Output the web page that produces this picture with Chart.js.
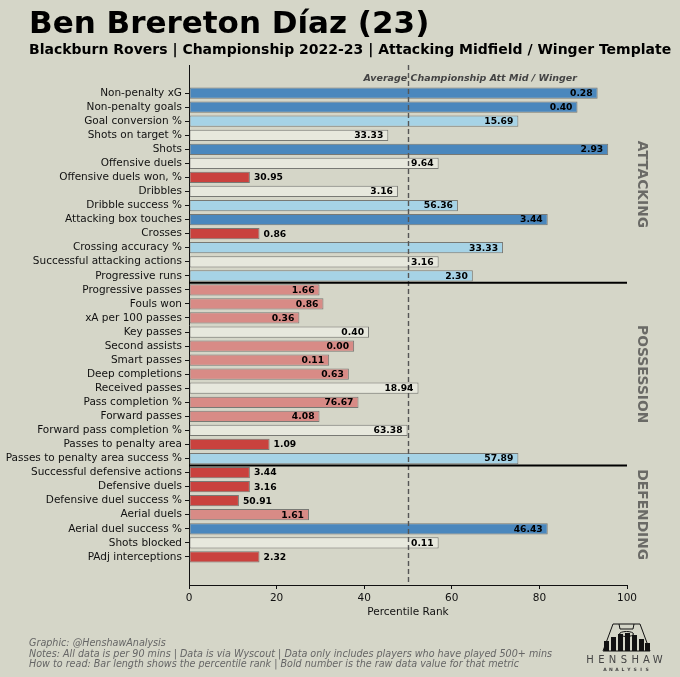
<!DOCTYPE html>
<html>
<head>
<meta charset="utf-8">
<script src="https://cdn.jsdelivr.net/npm/chart.js@4.4.0/dist/chart.umd.min.js"></script>
<style>
  html, body { margin: 0; padding: 0; background: #d5d6c8; }
  canvas { display: block; }
</style>
</head>
<body>
<canvas id="chart" width="680" height="677"></canvas>
<script>
const BG = '#d5d6c8';
const FONT = "'DejaVu Sans', sans-serif";

const metrics = [
  'Non-penalty xG', 'Non-penalty goals', 'Goal conversion %', 'Shots on target %', 'Shots',
  'Offensive duels', 'Offensive duels won, %', 'Dribbles', 'Dribble success %',
  'Attacking box touches', 'Crosses', 'Crossing accuracy %', 'Successful attacking actions',
  'Progressive runs',
  'Progressive passes', 'Fouls won', 'xA per 100 passes', 'Key passes', 'Second assists',
  'Smart passes', 'Deep completions', 'Received passes', 'Pass completion %', 'Forward passes',
  'Forward pass completion %', 'Passes to penalty area', 'Passes to penalty area success %',
  'Successful defensive actions', 'Defensive duels', 'Defensive duel success %', 'Aerial duels',
  'Aerial duel success %', 'Shots blocked', 'PAdj interceptions'
];

// bar length = percentile rank
const percentiles = [
  93.3, 88.7, 75.2, 45.5, 95.7, 57.0, 13.9, 47.7, 61.4, 81.9, 16.1, 71.7, 57.0, 64.8,
  29.8, 30.7, 25.2, 41.1, 37.7, 32.0, 36.5, 52.4, 38.7, 29.8, 49.9, 18.4, 75.2,
  13.9, 13.9, 11.4, 27.4, 81.9, 57.0, 16.1
];

// bold number = raw per 90 value
const rawValues = [
  0.28, 0.40, 15.69, 33.33, 2.93, 9.64, 30.95, 3.16, 56.36, 3.44, 0.86, 33.33, 3.16, 2.30,
  1.66, 0.86, 0.36, 0.40, 0.00, 0.11, 0.63, 18.94, 76.67, 4.08, 63.38, 1.09, 57.89,
  3.44, 3.16, 50.91, 1.61, 46.43, 0.11, 2.32
];

const sections = ['ATTACKING', 'POSSESSION', 'DEFENDING'];
const sectionSizes = [14, 13, 7];
const xTicks = [0, 20, 40, 60, 80, 100];
const averageRank = 50;

const barColors = {
  elite: '#4a87bd',
  good: '#a6d3e6',
  mid: '#e7e8dd',
  weak: '#d88b86',
  poor: '#c9423e'
};

function colorFor(p) {
  if (p >= 80) return barColors.elite;
  if (p >= 60) return barColors.good;
  if (p >= 40) return barColors.mid;
  if (p >= 20) return barColors.weak;
  return barColors.poor;
}

// section break positions and centres, built from the sizes
const breaks = [];
const centres = [];
let start = 0;
sectionSizes.forEach((n, i) => {
  centres.push(start + (n - 1) / 2);
  start += n;
  if (i < sectionSizes.length - 1) breaks.push(start - 0.5);
});

const decor = {
  id: 'decor',
  beforeDraw(chart) {
    const ctx = chart.ctx;
    ctx.save();
    ctx.fillStyle = BG;
    ctx.fillRect(0, 0, chart.width, chart.height);
    ctx.restore();
  },
  afterDatasetsDraw(chart) {
    const ctx = chart.ctx;
    const x = chart.scales.x;
    const y = chart.scales.y;
    const area = chart.chartArea;
    ctx.save();

    // average line
    const ax = Math.round(x.getPixelForValue(averageRank)) + 0.5;
    ctx.strokeStyle = '#555';
    ctx.lineWidth = 1.4;
    ctx.setLineDash([5, 3]);
    ctx.beginPath();
    ctx.moveTo(ax, area.top);
    ctx.lineTo(ax, area.bottom);
    ctx.stroke();
    ctx.setLineDash([]);

    ctx.font = `italic bold 9.5px ${FONT}`;
    ctx.fillStyle = '#444';
    ctx.textAlign = 'center';
    ctx.textBaseline = 'middle';
    ctx.fillText('Average Championship Att Mid / Winger', x.getPixelForValue(64.2), 79);

    // section separators
    ctx.strokeStyle = '#000';
    ctx.lineWidth = 2;
    breaks.forEach(b => {
      const py = y.getPixelForValue(b);
      ctx.beginPath();
      ctx.moveTo(area.left, py);
      ctx.lineTo(area.right, py);
      ctx.stroke();
    });

    // section names
    ctx.font = `bold 13.8px ${FONT}`;
    ctx.fillStyle = '#6a6a66';
    sections.forEach((s, i) => {
      ctx.save();
      ctx.translate(642, y.getPixelForValue(centres[i]));
      ctx.rotate(Math.PI / 2);
      ctx.textAlign = 'center';
      ctx.textBaseline = 'middle';
      ctx.fillText(s, 0, 0);
      ctx.restore();
    });

    // raw values
    const meta = chart.getDatasetMeta(0);
    ctx.font = `bold 9.2px ${FONT}`;
    ctx.fillStyle = '#000';
    ctx.textBaseline = 'middle';
    meta.data.forEach((bar, i) => {
      const txt = rawValues[i].toFixed(2);
      if (percentiles[i] < 20) {
        ctx.textAlign = 'left';
        ctx.fillText(txt, bar.x + 4, bar.y + 0.5);
      } else {
        ctx.textAlign = 'right';
        ctx.fillText(txt, bar.x - 5, bar.y + 0.5);
      }
    });
    ctx.restore();
  },
  afterDraw(chart) {
    const ctx = chart.ctx;
    ctx.save();
    ctx.textBaseline = 'alphabetic';
    ctx.textAlign = 'left';
    ctx.fillStyle = '#000';
    ctx.font = `bold 31px ${FONT}`;
    ctx.fillText('Ben Brereton Díaz (23)', 29, 33);
    ctx.font = `bold 14px ${FONT}`;
    ctx.fillText('Blackburn Rovers | Championship 2022-23 | Attacking Midfield / Winger Template', 29, 54);

    ctx.font = `italic 9.6px ${FONT}`;
    ctx.fillStyle = '#666';
    ctx.textBaseline = 'middle';
    ctx.fillText('Graphic: @HenshawAnalysis', 29, 643);
    ctx.fillText('Notes: All data is per 90 mins | Data is via Wyscout | Data only includes players who have played 500+ mins', 29, 654);
    ctx.fillText('How to read: Bar length shows the percentile rank | Bold number is the raw data value for that metric', 29, 664);

    // logo
    ctx.strokeStyle = '#111';
    ctx.lineWidth = 1;
    ctx.beginPath();
    ctx.moveTo(613, 624); ctx.lineTo(640, 624); ctx.lineTo(650, 651); ctx.lineTo(603, 651); ctx.closePath();
    ctx.stroke();
    ctx.beginPath();
    ctx.moveTo(619, 624); ctx.lineTo(620, 629); ctx.lineTo(633, 629); ctx.lineTo(634, 624);
    ctx.stroke();
    ctx.beginPath();
    ctx.ellipse(626.5, 634, 7, 2.5, 0, 0, Math.PI * 2);
    ctx.stroke();
    ctx.fillStyle = '#111';
    const logoBars = [[604, 641], [611, 637], [618, 634], [625, 633], [632, 635], [639, 639], [645, 643]];
    logoBars.forEach(([bx, top]) => ctx.fillRect(bx, top, 5, 651 - top));

    ctx.fillStyle = '#444';
    ctx.textAlign = 'center';
    ctx.font = `10px ${FONT}`;
    'HENSHAW'.split('').forEach((c, i) => ctx.fillText(c, 590 + i * 11.3, 660));
    ctx.font = `bold 4.5px ${FONT}`;
    'ANALYSIS'.split('').forEach((c, i) => ctx.fillText(c, 605 + i * 6, 670));
    ctx.restore();
  }
};

new Chart(document.getElementById('chart'), {
  type: 'bar',
  data: {
    datasets: [{
      data: percentiles.map((p, i) => ({ x: p, y: i })),
      backgroundColor: percentiles.map(colorFor),
      borderColor: 'rgba(70, 70, 70, 0.65)',
      borderWidth: 1,
      borderSkipped: false,
      barPercentage: 0.8,
      categoryPercentage: 1.0
    }]
  },
  options: {
    indexAxis: 'y',
    responsive: false,
    animation: false,
    devicePixelRatio: 1,
    layout: { padding: { left: 0, right: 53, top: 65, bottom: 58 } },
    plugins: {
      legend: { display: false },
      tooltip: { enabled: false }
    },
    scales: {
      x: {
        type: 'linear',
        min: 0,
        max: 100,
        afterBuildTicks: s => { s.ticks = xTicks.map(v => ({ value: v })); },
        afterFit: s => { s.height = 34; },
        ticks: { color: '#111', font: { family: FONT, size: 10.5 }, padding: 3 },
        grid: { drawOnChartArea: false, tickLength: 4, color: '#111' },
        border: { display: true, color: '#111', width: 1 },
        title: {
          display: true,
          text: 'Percentile Rank',
          color: '#111',
          font: { family: FONT, size: 10.5 },
          padding: 0
        }
      },
      y: {
        type: 'linear',
        min: -2,
        max: 35,
        reverse: true,
        offset: false,
        afterBuildTicks: s => { s.ticks = metrics.map((_, i) => ({ value: i })); },
        afterFit: s => { s.width = 189; },
        ticks: {
          autoSkip: false,
          color: '#111',
          font: { family: FONT, size: 10.5 },
          padding: 3,
          callback: v => metrics[v]
        },
        grid: { drawOnChartArea: false, offset: false, tickLength: 4, color: '#111' },
        border: { display: true, color: '#111', width: 1 }
      }
    }
  },
  plugins: [decor]
});
</script>
</body>
</html>
